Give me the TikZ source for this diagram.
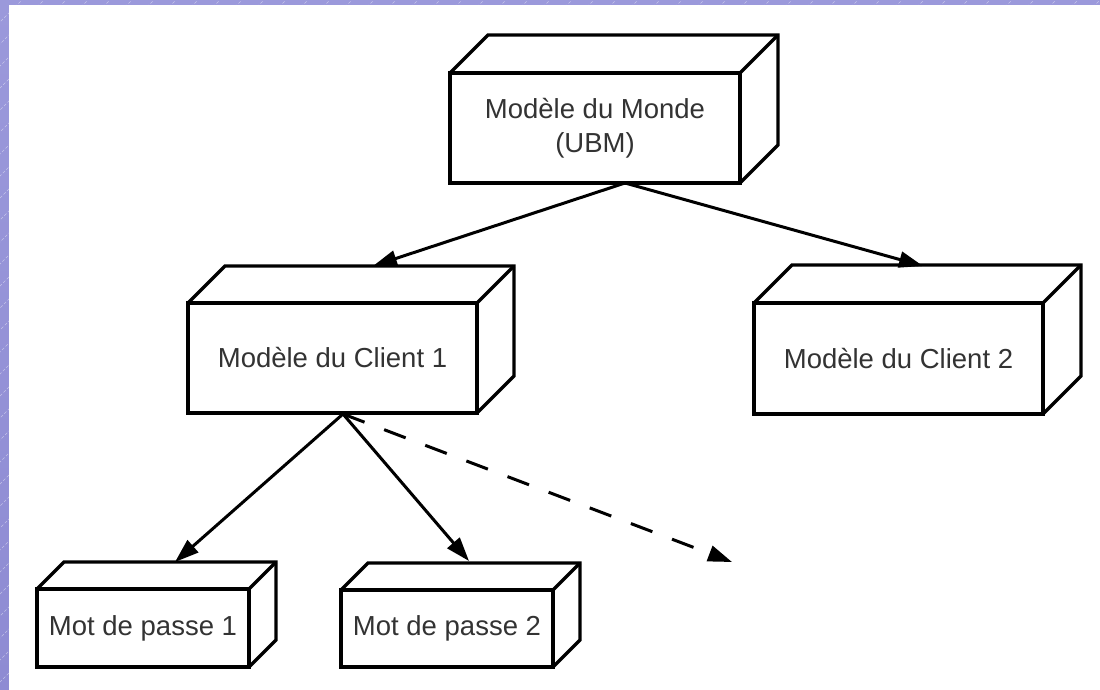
\documentclass[tikz,border=0pt]{standalone}
\usepackage{fontspec}
\setmainfont{Liberation Sans}
\usetikzlibrary{arrows.meta}

\definecolor{framepurple}{HTML}{9B99DB}
\definecolor{framedark}{HTML}{8E8BD3}
\definecolor{labelgray}{HTML}{333333}

\tikzset{
  face/.style={draw=black, line width=3.4pt, fill=white, rectangle,
    inner sep=0pt, outer sep=0pt, anchor=north west, align=center,
    text=labelgray, font=\fontsize{27.5}{34}\selectfont},
  edge3d/.style={draw=black, line width=3.4pt, line join=miter},
  link/.style={line width=3pt, -{Triangle[length=24pt,width=16pt]}},
  dashlink/.style={link, dash pattern=on 23pt off 21pt},
}

% box with front face (node #1) and its top and right faces
% #1 name, #2 left x, #3 top y, #4 width, #5 height, #6 depth, #7 text
\newcommand\solidbox[7]{%
  \node[face, minimum width=#4pt, minimum height=#5pt] (#1) at (#2,#3) {#7};
  \draw[edge3d] (#1.north west) -- ++(#6,-#6) -- ++(#4,0) -- ++(0,#5)
    -- (#1.south east);
  \draw[edge3d] (#1.north east) -- ++(#6,-#6);
}

\begin{document}
\begin{tikzpicture}[x=1pt, y=-1pt]
  \useasboundingbox (0,0) rectangle (1100,689);

  % slide frame: purple strips on the left and top edges
  \fill[top color=framepurple, bottom color=framedark] (0,0) rectangle (1100,689);
  \begin{scope}
    \clip (0,0) rectangle (1100,689) (9,5) rectangle (1100,689);
    \foreach \k in {0,...,85} {
      \draw[white, opacity=0.45, line width=0.6pt, dash pattern=on 3pt off 2pt]
        (22*\k-700, 700) -- (22*\k, 0);
    }
  \end{scope}
  \fill[white] (9,5) rectangle (1110,700);

  % boxes
  \solidbox{ubm}{450}{73}{290}{110}{38}{Modèle du Monde\\(UBM)}
  \solidbox{c1}{188}{303}{289}{110}{37}{Modèle du Client 1}
  \solidbox{c2}{754}{303}{289}{111}{38}{Modèle du Client 2}
  \solidbox{p1}{37}{589}{212}{78}{27}{Mot de passe 1}
  \solidbox{p2}{341}{590}{212}{77}{27}{Mot de passe 2}

  % connection points on the boxes
  \coordinate (ubm-out) at (625,183);
  \coordinate (c1-in)   at (373,266);
  \coordinate (c2-in)   at (923,266);
  \coordinate (c1-out)  at (343,414);
  \coordinate (p1-in)   at (175,562);
  \coordinate (p2-in)   at (469,561);
  \coordinate (next)    at (732,562);

  % connectors
  \draw[link] (ubm-out) -- (c1-in);
  \draw[link] (ubm-out) -- (c2-in);
  \draw[link] (c1-out) -- (p1-in);
  \draw[link] (c1-out) -- (p2-in);
  \draw[dashlink] (c1-out) -- (next);
\end{tikzpicture}
\end{document}
